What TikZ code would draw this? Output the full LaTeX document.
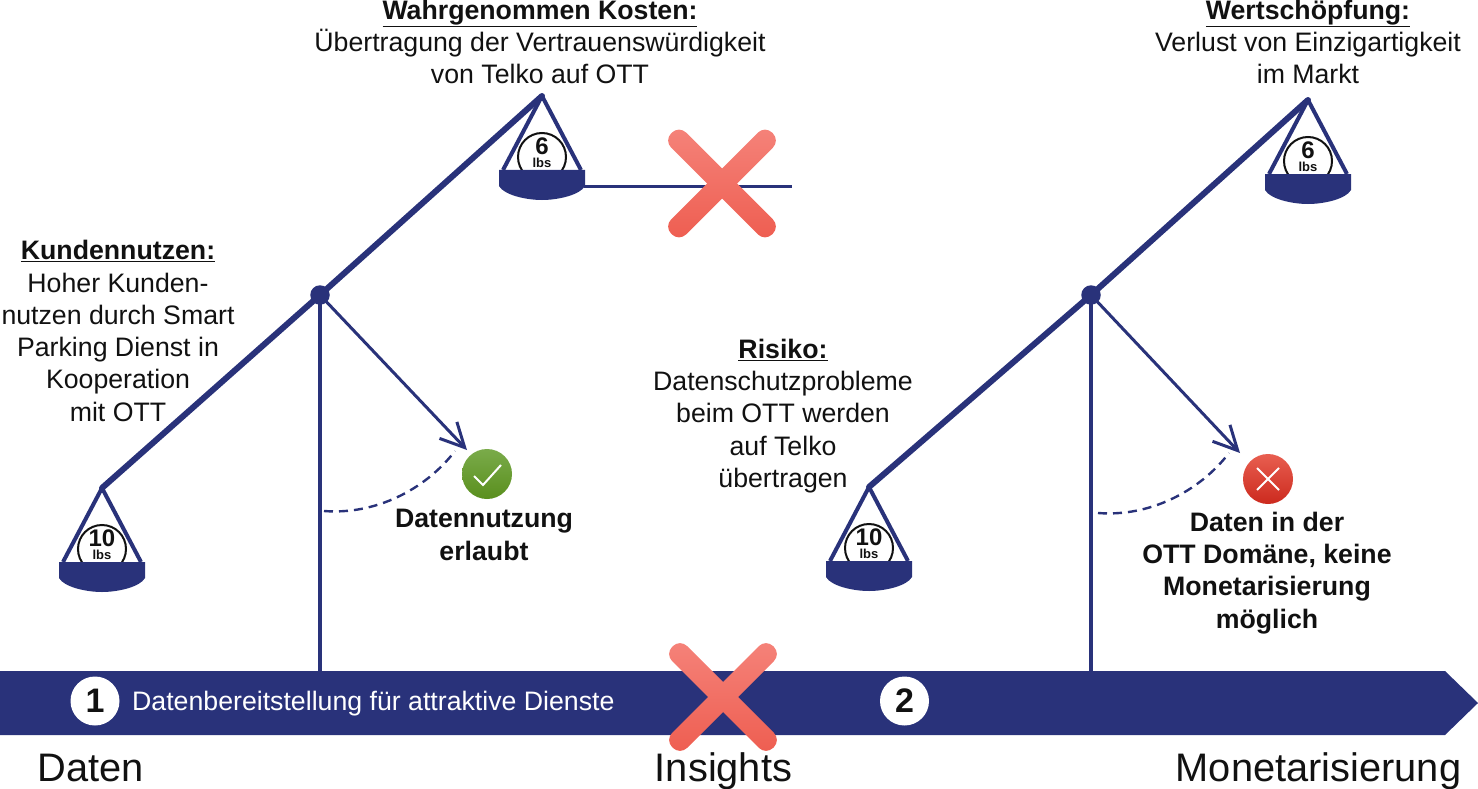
\documentclass[tikz,border=0pt]{standalone}
\usepackage{fontspec}
\setmainfont{Liberation Sans}
\usetikzlibrary{arrows.meta,shapes.geometric}
\definecolor{navy}{HTML}{29327A}
\definecolor{ink}{HTML}{111111}
\definecolor{crosstop}{HTML}{F5837A}
\definecolor{crossbot}{HTML}{EE5D50}
\definecolor{oktop}{HTML}{7AAB4A}
\definecolor{okbot}{HTML}{5A8F1E}
\definecolor{notop}{HTML}{E85E50}
\definecolor{nobot}{HTML}{CC2A1E}
\newcommand{\fs}[2]{\fontsize{#1}{#2}\selectfont}
\newcommand{\head}[1]{\textbf{\underline{#1}}}
\tikzset{
  x=1pt,y=-1pt,
  beam/.style={draw=navy,line width=6pt,line cap=round},
  post/.style={draw=navy,line width=4.5pt},
  pointer/.style={draw=navy,line width=3pt,-{Straight Barb[length=24pt,width=24pt,line width=3pt]}},
  swing/.style={draw=navy,line width=2.4pt,dash pattern=on 9pt off 6pt},
  hub/.style={circle,fill=navy,minimum size=19.5pt,inner sep=0pt},
  note/.style={inner sep=0pt,align=center,text=ink,font=\fs{26.7}{32.3}},
  boldnote/.style={note,font=\fs{26.7}{32.3}\bfseries},
  axisnote/.style={inner sep=0pt,anchor=base,text=ink,font=\fs{39.8}{42}},
  badge/.style={circle,fill=white,minimum size=49pt,inner sep=0pt,text=ink,font=\fs{34}{36}\bfseries},
  verdict/.style={circle,minimum size=50pt,inner sep=0pt,shade},
  scalepan/.pic={
    \draw[navy,line width=4pt,line join=round] (-39,74) -- (0,0) -- (39,74);
    \begin{scope}
      \clip (-30,30) rectangle (30,74);
      \draw[ink,line width=2pt] (0,61) circle[radius=24];
    \end{scope}
    \node[inner sep=0pt,text=ink,font=\fs{24}{24}\bfseries] at (0,50.5) {#1};
    \node[inner sep=0pt,text=ink,font=\fs{13}{13}\bfseries] at (0,66.5) {lbs};
    \fill[navy] (-43,74) -- (43,74) -- (43,90) .. controls (38,99) and (16,104) .. (0,104)
      .. controls (-16,104) and (-38,99) .. (-43,90) -- cycle;
  },
}
% Red cross: two rounded bars, each with the same vertical shading
\newcommand{\redcross}[2]{%
  \shade[top color=crosstop,bottom color=crossbot,rounded corners=10pt,shift={(#1,#2)}]
    (43,58) -- (58,43) -- (-43,-58) -- (-58,-43) -- cycle;
  \shade[top color=crosstop,bottom color=crossbot,rounded corners=10pt,shift={(#1,#2)}]
    (-43,58) -- (-58,43) -- (43,-58) -- (58,-43) -- cycle;
}
\begin{document}
\begin{tikzpicture}
\useasboundingbox (0,0) rectangle (1478,789);

% Base arrow
\fill[navy] (0,671) -- (1445,671) -- (1478,703) -- (1445,735) -- (0,735) -- cycle;
\coordinate (baseL) at (320,671);
\coordinate (baseR) at (1091,671);

% Left balance
\node[hub] (pivotL) at (320,295) {};
\coordinate (lowL) at (102,488);
\coordinate (highL) at (542,96);
\draw[post] (pivotL.center) -- (baseL);
\draw[beam] (lowL) -- (pivotL.center) -- (highL);
\pic at (lowL) {scalepan={10}};
\pic at (highL) {scalepan={6}};
\coordinate (panEdge) at (584,186);
\coordinate (stub) at (792,186);
\draw[navy,line width=3pt] (panEdge) -- (stub);

% Right balance
\node[hub] (pivotR) at (1091,295) {};
\coordinate (lowR) at (869,487);
\coordinate (highR) at (1308,100);
\draw[post] (pivotR.center) -- (baseR);
\draw[beam] (lowR) -- (pivotR.center) -- (highR);
\pic at (lowR) {scalepan={10}};
\pic at (highR) {scalepan={6}};

% Verdict badges
\node[verdict,top color=oktop,bottom color=okbot] (okay) at (487,474) {};
\draw[white,line width=2pt] (474,476) -- (483,485) -- (501,465);
\node[verdict,top color=notop,bottom color=nobot] (deny) at (1268,479) {};
\draw[white,line width=2pt] (1257,468) -- (1279,490) (1279,468) -- (1257,490);

% Pointers and swing arcs
\coordinate (tipL) at (467,450);
\coordinate (tipR) at (1240,453);
\draw[pointer] (pivotL.center) -- (tipL);
\draw[pointer] (pivotR.center) -- (tipR);
\coordinate (arcL) at (324,511);
\coordinate (arcLend) at (455,451);
\coordinate (arcR) at (1098,513);
\coordinate (arcRend) at (1229,453);
\draw[swing] (arcL) .. controls (375,515) and (425,490) .. (arcLend);
\draw[swing] (arcR) .. controls (1149,517) and (1199,492) .. (arcRend);

% Crosses
\redcross{722}{183.5}
\redcross{723}{697}

% Numbered badges and base arrow text
\node[badge] (one) at (95,701) {1};
\node[badge] (two) at (904.5,701) {2};
\node[inner sep=0pt,anchor=base west,text=white,font=\fs{26.7}{30}] (bartext) at (132,710) {Datenbereitstellung für attraktive Dienste};

% Axis captions
\node[axisnote] (capData) at (90.5,781) {Daten};
\node[axisnote] (capIns) at (723.5,781) {Insights};
\node[axisnote] (capMon) at (1318.5,781) {Monetarisierung};

% Annotations
\node[note] (costs) at (540,42) {\head{Wahrgenommen Kosten:}\\Übertragung der Vertrauenswürdigkeit\\von Telko auf OTT};
\node[note] (value) at (1308,42) {\head{Wertschöpfung:}\\Verlust von Einzigartigkeit\\im Markt};
\node[note] (benefit) at (118,331) {\head{Kundennutzen:}\\Hoher Kunden-\\nutzen durch Smart\\Parking Dienst in\\Kooperation\\mit OTT};
\node[note] (risk) at (783,416) {\head{Risiko:}\\Datenschutzprobleme\\beim OTT werden\\auf Telko\\übertragen};
\node[boldnote] (allowed) at (484,535) {Datennutzung\\erlaubt};
\node[boldnote] (denied) at (1267,573) {Daten in der\\OTT Domäne, keine\\Monetarisierung\\möglich};
\end{tikzpicture}
\end{document}
